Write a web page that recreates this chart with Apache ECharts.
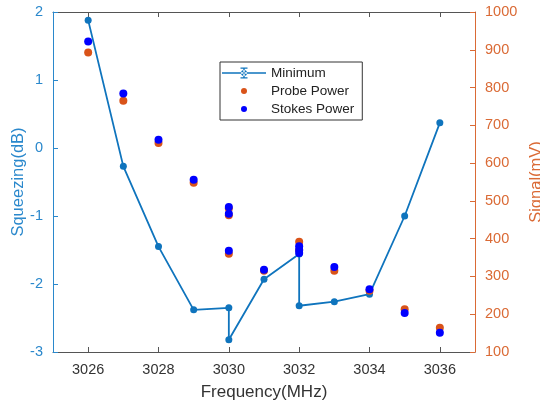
<!DOCTYPE html>
<html><head><meta charset="utf-8">
<script src="https://cdn.jsdelivr.net/npm/echarts@6/dist/echarts.min.js"></script>
<style>html,body{margin:0;padding:0;background:#fff}#c{width:540px;height:410px}</style>
</head><body><div id="c"></div>
<script>
const xTicks = [3026, 3028, 3030, 3032, 3034, 3036];
const minFreq = [3026, 3027, 3028, 3029, 3030, 3030, 3031, 3032, 3032, 3033, 3034, 3035, 3036];
const minVal = [1.88, -0.27, -1.45, -2.38, -2.35, -2.82, -1.93, -1.56, -2.32, -2.26, -2.15, -1.0, 0.37];
const probeFreq = [3026, 3027, 3028, 3029, 3030, 3030, 3030, 3031, 3032, 3032, 3033, 3034, 3035, 3036];
const probeVal = [893, 765, 653, 548, 480, 462, 360, 315, 392, 370, 315, 262, 213, 164];
const stokesFreq = [3026, 3027, 3028, 3029, 3030, 3030, 3030, 3031, 3032, 3032, 3032, 3033, 3034, 3035, 3036];
const stokesVal = [922, 784, 662, 556, 484, 466, 368, 318, 380, 370, 362, 325, 266, 203, 151];

const BLUE = '#0F74BD', BLUE_T = '#2A88CC', ORANGE = '#D95319', ORANGE_T = '#DA6A35', GRAY = '#555';
const FONT = '"Liberation Sans", Arial, sans-serif';
const zip = (a, b) => a.map((v, i) => [v, b[i]]);
const plain = v => String(v);

const iconMin = 'path://M0,0 M44,14 M0,6.3 L44,6.3 L44,7.7 L0,7.7 Z M21.3,2 L22.7,2 L22.7,12 L21.3,12 Z M18.5,1.5 L25.5,1.5 L25.5,2.8 L18.5,2.8 Z M18.5,11.2 L25.5,11.2 L25.5,12.5 L18.5,12.5 Z M19,7 A3,3 0 1,0 25,7 A3,3 0 1,0 19,7 Z';
const iconDot = 'path://M0,0 M44,14 M19,7 A3,3 0 1,0 25,7 A3,3 0 1,0 19,7 Z';

const chart = echarts.init(document.getElementById('c'), null, {renderer: 'canvas'});
chart.setOption({
  animation: false,
  textStyle: {fontFamily: FONT},
  grid: {left: 53, right: 65, top: 12, bottom: 58, containLabel: false, outerBoundsMode: 'none'},
  legend: {
    left: 220, top: 62, orient: 'vertical',
    itemWidth: 44, itemHeight: 14, itemGap: 4,
    padding: [4, 8, 4, 2],
    borderColor: '#333', borderWidth: 1, backgroundColor: '#fff',
    textStyle: {fontSize: 13.5, color: '#222', fontFamily: FONT},
    data: [
      {name: 'Minimum', icon: iconMin},
      {name: 'Probe Power', icon: iconDot},
      {name: 'Stokes Power', icon: iconDot}
    ]
  },
  xAxis: [{
    type: 'value', min: 3025, max: 3037,
    name: 'Frequency(MHz)', nameLocation: 'middle', nameGap: 32,
    nameTextStyle: {fontSize: 17, color: '#333', fontFamily: FONT},
    axisLine: {onZero: false, lineStyle: {color: GRAY}},
    axisTick: {inside: true, length: 5, customValues: xTicks, lineStyle: {color: GRAY}},
    axisLabel: {customValues: xTicks, fontSize: 14.5, color: '#333', margin: 10, formatter: plain},
    splitLine: {show: false}
  }, {
    type: 'value', min: 3025, max: 3037, position: 'top',
    axisLine: {onZero: false, lineStyle: {color: GRAY}},
    axisTick: {inside: true, length: 5, customValues: xTicks, lineStyle: {color: GRAY}},
    axisLabel: {show: false},
    splitLine: {show: false}
  }],
  yAxis: [{
    type: 'value', min: -3, max: 2, interval: 1, position: 'left',
    name: 'Squeezing(dB)', nameLocation: 'middle', nameGap: 26, nameRotate: 90, nameMoveOverlap: false,
    nameTextStyle: {fontSize: 16.5, color: BLUE_T, fontFamily: FONT},
    axisLine: {show: true, onZero: false, lineStyle: {color: BLUE_T}},
    axisTick: {show: true, inside: true, length: 5, lineStyle: {color: BLUE_T}},
    axisLabel: {fontSize: 14.5, color: BLUE_T, margin: 10, formatter: plain},
    splitLine: {show: false}
  }, {
    type: 'value', min: 100, max: 1000, interval: 100, position: 'right',
    name: 'Signal(mV)', nameLocation: 'middle', nameGap: 49, nameRotate: 90,
    nameTextStyle: {fontSize: 16.5, color: ORANGE_T, fontFamily: FONT},
    axisLine: {show: true, onZero: false, lineStyle: {color: ORANGE_T}},
    axisTick: {show: true, inside: true, length: 5, lineStyle: {color: ORANGE_T}},
    axisLabel: {fontSize: 14.5, color: ORANGE_T, margin: 10, formatter: plain},
    splitLine: {show: false}
  }],
  series: [{
    name: 'Minimum', type: 'line', xAxisIndex: 0, yAxisIndex: 0,
    data: zip(minFreq, minVal),
    symbol: 'circle', symbolSize: 7,
    lineStyle: {color: BLUE, width: 1.8},
    itemStyle: {color: BLUE},
    z: 2
  }, {
    name: 'Probe Power', type: 'scatter', xAxisIndex: 0, yAxisIndex: 1,
    data: zip(probeFreq, probeVal),
    symbol: 'circle', symbolSize: 8,
    itemStyle: {color: ORANGE, opacity: 1},
    z: 3
  }, {
    name: 'Stokes Power', type: 'scatter', xAxisIndex: 0, yAxisIndex: 1,
    data: zip(stokesFreq, stokesVal),
    symbol: 'circle', symbolSize: 8,
    itemStyle: {color: '#0000FF', opacity: 1},
    z: 4
  }]
});
</script></body></html>
